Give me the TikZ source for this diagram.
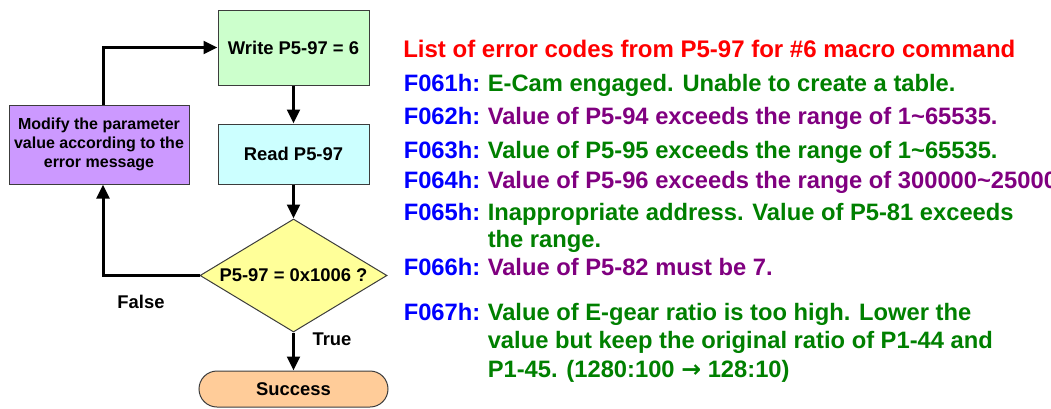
\documentclass[tikz,border=0pt]{standalone}
\usepackage{fontspec}
\setmainfont{Liberation Sans}
\newfontfamily\arrowfont{DejaVu Sans}
\usepackage{xcolor}
\usetikzlibrary{arrows.meta,shapes.geometric}
\definecolor{writefill}{RGB}{204,255,204}
\definecolor{readfill}{RGB}{204,255,255}
\definecolor{modifyfill}{RGB}{204,153,255}
\definecolor{checkfill}{RGB}{255,255,153}
\definecolor{donefill}{RGB}{255,204,153}
\definecolor{boxline}{RGB}{60,60,60}
\definecolor{codeblue}{RGB}{0,0,255}
\definecolor{msggreen}{RGB}{0,128,0}
\definecolor{msgpurple}{RGB}{128,0,128}
\definecolor{titlered}{RGB}{255,0,0}

\begin{document}
\begin{tikzpicture}[
      x=0.75pt,y=-0.75pt,
      box/.style={draw=boxline,line width=0.75pt,align=center,inner sep=0pt,
                  font=\fontsize{13.8}{16}\selectfont\bfseries},
      stepbox/.style={box,minimum width=113.25pt},
      modbox/.style={box,fill=modifyfill,minimum width=135pt,minimum height=59.25pt,
                  font=\fontsize{12}{14.25}\selectfont\bfseries},
      check/.style={box,diamond,aspect=1.655,fill=checkfill,minimum width=140.25pt,
                  minimum height=84.75pt},
      done/.style={box,fill=donefill,minimum width=141.75pt,minimum height=27pt,
                  rounded corners=13.5pt},
      flow/.style={line width=2.25pt,-{Triangle[length=10.5pt,width=9.5pt]}},
      lbl/.style={anchor=base,inner sep=0pt,font=\fontsize{13.8}{16}\selectfont\bfseries},
      code/.style={anchor=base west,inner sep=0pt,text=codeblue,
                  font=\fontsize{17.8}{20}\selectfont\bfseries},
      msg/.style={anchor=base west,inner sep=0pt,
                  font=\fontsize{17.8}{20}\selectfont\bfseries}]

    \useasboundingbox (0,0) rectangle (1051,408);
    \clip (0,0) rectangle (1051,408);

    % flow chart
    \node[stepbox,fill=writefill,minimum height=56.25pt] (write) at (293.5,47.5)
      {Write P5-97 = 6};
    \node[stepbox,fill=readfill,minimum height=45pt] (read) at (293.5,154)
      {Read P5-97};
    \node[modbox] (modify) at (99,144.5)
      {Modify the parameter\\value according to the\\error message};
    \node[check] (test) at (293.5,275.5) {P5-97 = 0x1006 ?};
    \node[done] (success) at (293.5,389) {Success};

    \draw[flow] (write) -- (read);
    \draw[flow] (read) -- (test);
    \draw[flow] (test) -- (success);
    \draw[flow] (test.west) -| ([xshift=3pt]modify.south);
    \draw[flow] ([xshift=3pt]modify.north) |- (write.west);

    \node[lbl] (false) at (141,308) {False};
    \node[lbl] (true) at (332,345.5) {True};

    % error code list
    \node[msg,text=titlered,font=\fontsize{18}{20}\selectfont\bfseries] (title) at (403,57)
      {List of error codes from P5-97 for \#6 macro command};

    \node[code] (c61) at (403.5,91) {F061h:};
    \node[msg,text=msggreen] (d61) at (487.5,91) {E-Cam engaged. Unable to create a table.};
    \node[code] (c62) at (403.5,124) {F062h:};
    \node[msg,text=msgpurple] (d62) at (487.5,124) {Value of P5-94 exceeds the range of 1\textasciitilde 65535.};
    \node[code] (c63) at (403.5,158) {F063h:};
    \node[msg,text=msggreen] (d63) at (487.5,158) {Value of P5-95 exceeds the range of 1\textasciitilde 65535.};
    \node[code] (c64) at (403.5,188) {F064h:};
    \node[msg,text=msgpurple] (d64) at (487.5,188) {Value of P5-96 exceeds the range of 300000\textasciitilde 25000000};
    \node[code] (c65) at (403.5,220) {F065h:};
    \node[msg,text=msggreen] (d65) at (487.5,220) {Inappropriate address. Value of P5-81 exceeds};
    \node[msg,text=msggreen] (d65b) at (487.5,247) {the range.};
    \node[code] (c66) at (403.5,275) {F066h:};
    \node[msg,text=msgpurple] (d66) at (487.5,275) {Value of P5-82 must be 7.};
    \node[code] (c67) at (403.5,320) {F067h:};
    \node[msg,text=msggreen] (d67) at (487.5,320) {Value of E-gear ratio is too high. Lower the};
    \node[msg,text=msggreen] (d67b) at (487.5,348) {value but keep the original ratio of P1-44 and};
    \node[msg,text=msggreen] (d67c) at (487.5,377) {P1-45. (1280:100 {\arrowfont →} 128:10)};
  \end{tikzpicture}
\end{document}
